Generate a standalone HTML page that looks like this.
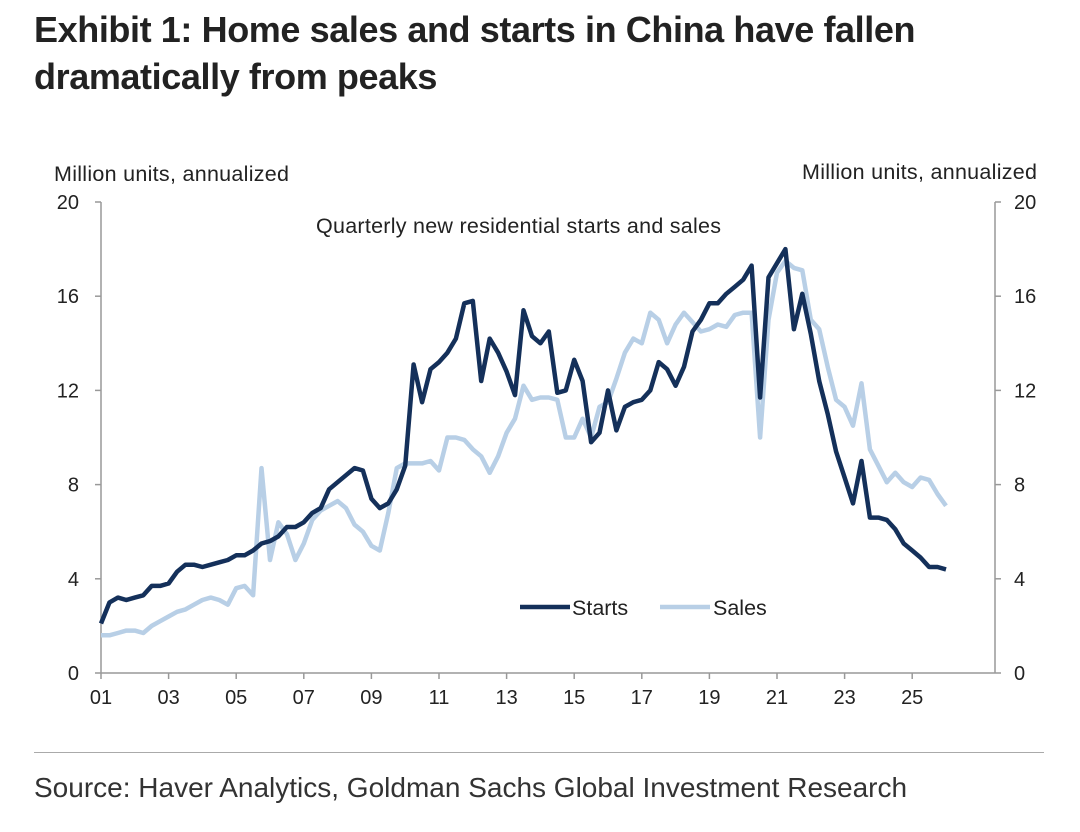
<!DOCTYPE html>
<html><head><meta charset="utf-8"><style>
body{margin:0;background:#fff;width:1080px;height:832px;overflow:hidden;font-family:"Liberation Sans",sans-serif}
.t{position:absolute;left:34px;top:6px;font-weight:bold;font-size:36px;line-height:47px;color:#222;letter-spacing:-0.4px}
.src{position:absolute;left:34px;top:772px;font-size:28px;color:#333}
.sep{position:absolute;left:34px;top:752px;width:1010px;height:1px;background:#aaa}
</style></head><body>
<div class="t">Exhibit 1: Home sales and starts in China have fallen<br>dramatically from peaks</div>
<svg id="c" width="1080" height="832" style="position:absolute;left:0;top:0"></svg>
<div class="sep"></div>
<div class="src">Source: Haver Analytics, Goldman Sachs Global Investment Research</div>
<script>
const yTicks=[0,4,8,12,16,20];
const xTickLabels=["01","03","05","07","09","11","13","15","17","19","21","23","25"];
const starts=[2.1,3.0,3.2,3.1,3.2,3.3,3.7,3.7,3.8,4.3,4.6,4.6,4.5,4.6,4.7,4.8,5.0,5.0,5.2,5.5,5.6,5.8,6.2,6.2,6.4,6.8,7.0,7.8,8.1,8.4,8.7,8.6,7.4,7.0,7.2,7.8,8.8,13.1,11.5,12.9,13.2,13.6,14.2,15.7,15.8,12.4,14.2,13.6,12.8,11.8,15.4,14.3,14.0,14.5,11.9,12.0,13.3,12.4,9.8,10.2,12.0,10.3,11.3,11.5,11.6,12.0,13.2,12.9,12.2,13.0,14.5,15.0,15.7,15.7,16.1,16.4,16.7,17.3,11.7,16.8,17.4,18.0,14.6,16.1,14.4,12.4,11.0,9.4,8.3,7.2,9.0,6.6,6.6,6.5,6.1,5.5,5.2,4.9,4.5,4.5,4.4];
const sales=[1.6,1.6,1.7,1.8,1.8,1.7,2.0,2.2,2.4,2.6,2.7,2.9,3.1,3.2,3.1,2.9,3.6,3.7,3.3,8.7,4.8,6.4,5.9,4.8,5.5,6.5,6.9,7.1,7.3,7.0,6.3,6.0,5.4,5.2,6.8,8.7,8.9,8.9,8.9,9.0,8.6,10.0,10.0,9.9,9.5,9.2,8.5,9.2,10.2,10.8,12.2,11.6,11.7,11.7,11.6,10.0,10.0,10.8,10.0,11.3,11.5,12.5,13.6,14.2,14.0,15.3,15.0,14.0,14.8,15.3,14.9,14.5,14.6,14.8,14.7,15.2,15.3,15.3,10.0,15.0,17.0,17.5,17.2,17.1,15.0,14.6,13.0,11.6,11.3,10.5,12.3,9.5,8.8,8.1,8.5,8.1,7.9,8.3,8.2,7.6,7.1];
const L=101,R=995,T=202,B=673,qw=8.45;
const ys=v=>B-(v/20)*(B-T);
const xs=i=>L+i*qw;
const svg=document.getElementById('c');const NS='http://www.w3.org/2000/svg';
function mk(tag,a,txt){const e=document.createElementNS(NS,tag);for(const k in a)e.setAttribute(k,a[k]);if(txt!=null)e.textContent=txt;svg.appendChild(e);return e;}
let e;
e=mk('line',{x1:L,y1:T,x2:L,y2:B,stroke:'#999','stroke-width':1.5});

e=mk('line',{x1:R,y1:T,x2:R,y2:B,stroke:'#999','stroke-width':1.5});

e=mk('line',{x1:L,y1:B,x2:R,y2:B,stroke:'#999','stroke-width':1.5});

yTicks.forEach(v=>{const y=ys(v);
mk('line',{x1:L-6,y1:y,x2:L,y2:y,stroke:'#999','stroke-width':1.5});
mk('line',{x1:R,y1:y,x2:R+6,y2:y,stroke:'#999','stroke-width':1.5});
e=mk('text',{x:L-22,y:y+7,'text-anchor':'end','font-size':20,fill:'#222'},v);

e=mk('text',{x:R+19,y:y+7,'font-size':20,fill:'#222'},v);
});
xTickLabels.forEach((s,k)=>{const x=xs(k*8);
mk('line',{x1:x,y1:B,x2:x,y2:B+6,stroke:'#999','stroke-width':1.5});
e=mk('text',{x:x,y:B+31,'text-anchor':'middle','font-size':20,fill:'#222'},s);
});
e=mk('text',{x:54,y:181,'font-size':21.5,fill:'#222','textLength':235},'Million units, annualized');

e=mk('text',{x:802,y:179,'font-size':21.5,fill:'#222','textLength':235},'Million units, annualized');

e=mk('text',{x:316,y:233,'font-size':21.5,fill:'#222','textLength':405},'Quarterly new residential starts and sales');

function path(d){return d.map((v,i)=>(i?'L':'M')+xs(i).toFixed(1)+','+ys(v).toFixed(1)).join(' ');}
e=mk('path',{d:path(sales),fill:'none',stroke:'#b8cfe6','stroke-width':4.5,'stroke-linejoin':'round'});

e=mk('path',{d:path(starts),fill:'none',stroke:'#14305a','stroke-width':4.5,'stroke-linejoin':'round'});

e=mk('line',{x1:520,y1:607,x2:570,y2:607,stroke:'#14305a','stroke-width':4.5});

e=mk('text',{x:572,y:615,'font-size':21.5,fill:'#222'},'Starts');

e=mk('line',{x1:660,y1:607,x2:710,y2:607,stroke:'#b8cfe6','stroke-width':4.5});

e=mk('text',{x:713,y:615,'font-size':21.5,fill:'#222'},'Sales');

</script>
</body></html>
